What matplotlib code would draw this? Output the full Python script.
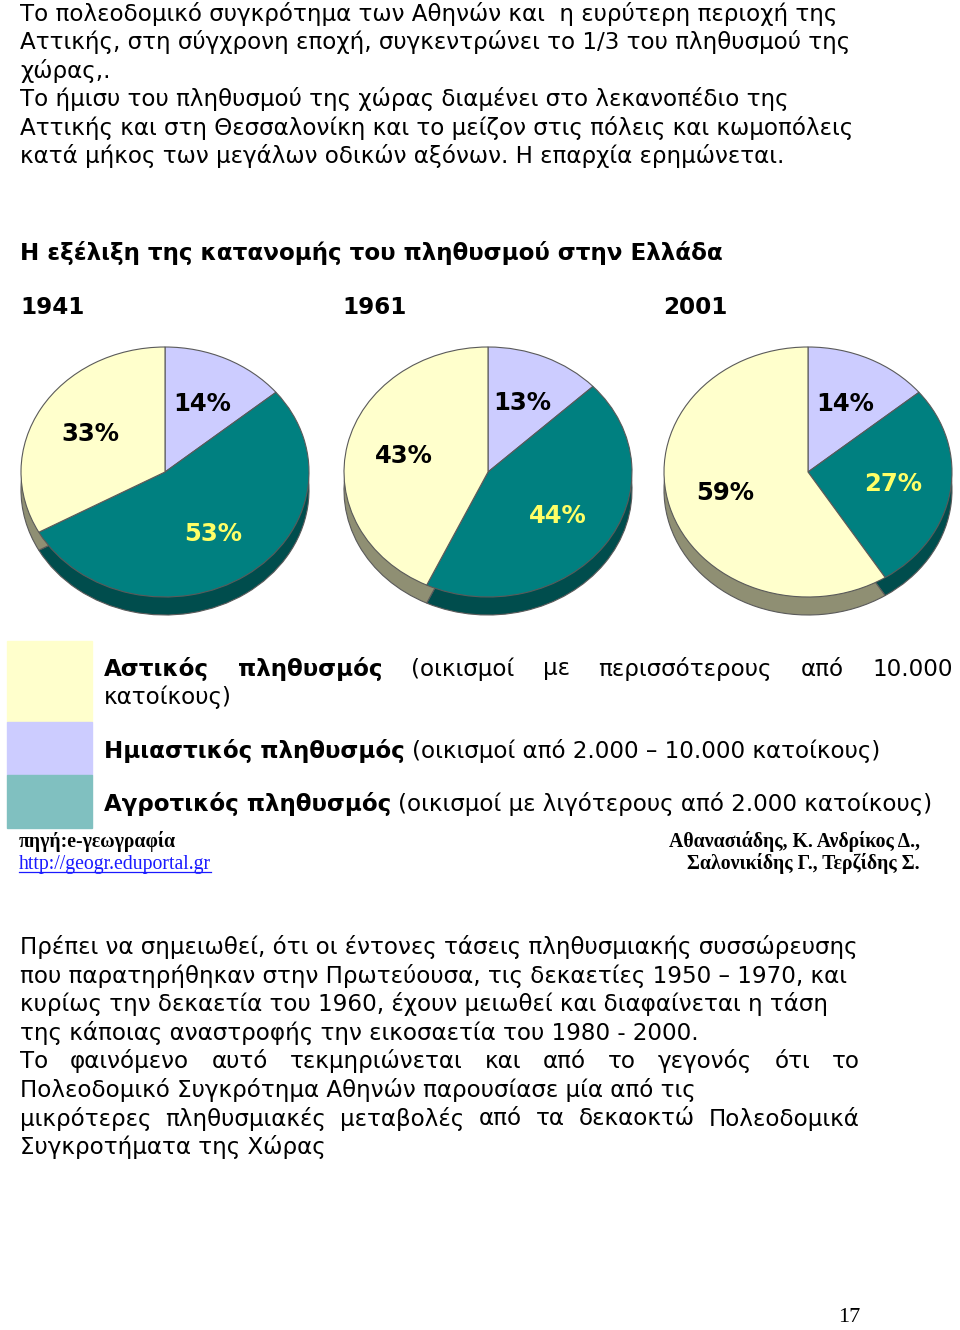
"""Σελίδα με τρία διαγράμματα πίτας: κατανομή πληθυσμού στην Ελλάδα 1941-1961-2001."""

import matplotlib
matplotlib.use("Agg")
import matplotlib.pyplot as plt
from matplotlib.lines import Line2D

# ---------------------------------------------------------------------------
# Δεδομένα
# ---------------------------------------------------------------------------
ETH = ["1941", "1961", "2001"]
ASTIKOS = [33, 43, 59]
HMIASTIKOS = [14, 13, 14]
AGROTIKOS = [53, 44, 27]

PARA1 = [
    "Το πολεοδομικό συγκρότημα των Αθηνών και  η ευρύτερη περιοχή της",
    "Αττικής, στη σύγχρονη εποχή, συγκεντρώνει το 1/3 του πληθυσμού της",
    "χώρας,.",
    "Το ήμισυ του πληθυσμού της χώρας διαμένει στο λεκανοπέδιο της",
    "Αττικής και στη Θεσσαλονίκη και το μείζον στις πόλεις και κωμοπόλεις",
    "κατά μήκος των μεγάλων οδικών αξόνων. Η επαρχία ερημώνεται.",
]
PARA2 = [
    ("Πρέπει να σημειωθεί, ότι οι έντονες τάσεις πληθυσμιακής συσσώρευσης", False),
    ("που παρατηρήθηκαν στην Πρωτεύουσα, τις δεκαετίες 1950 – 1970, και", False),
    ("κυρίως την δεκαετία του 1960, έχουν μειωθεί και διαφαίνεται η τάση", False),
    ("της κάποιας αναστροφής την εικοσαετία του 1980 - 2000.", False),
    ("Το φαινόμενο αυτό τεκμηριώνεται και από το γεγονός ότι το", True),
    ("Πολεοδομικό Συγκρότημα Αθηνών παρουσίασε μία από τις", False),
    ("μικρότερες πληθυσμιακές μεταβολές από τα δεκαοκτώ Πολεοδομικά", True),
    ("Συγκροτήματα της Χώρας", False),
]
TITLOS = "Η εξέλιξη της κατανομής του πληθυσμού στην Ελλάδα"

# χρώματα: ημιαστικός, αγροτικός, αστικός (σειρά δεξιόστροφα από πάνω)
TOP = ["#ccccff", "#008080", "#ffffcc"]
SIDE = ["#7a7a99", "#004d4d", "#8f8f73"]
LEG = {"astikos": "#ffffcc", "hmi": "#ccccff", "agro": "#80c0c0"}
LABEL_COL = ["black", "#ffff66", "black"]

W, H = 960, 1330
BODY = 16.6

fig = plt.figure(figsize=(9.6, 13.3), dpi=100)
renderer = fig.canvas.get_renderer()


def fx(px):
    return px / W


def fy(py):
    return 1 - py / H


def put(x, y, s, **kw):
    kw.setdefault("fontsize", BODY)
    kw.setdefault("va", "center")
    return fig.text(fx(x), fy(y), s, **kw)


def wid(t):
    return t.get_window_extent(renderer).width


def space_w(size, weight="normal"):
    a = put(0, -100, "a a", fontsize=size, fontweight=weight)
    b = put(0, -100, "aa", fontsize=size, fontweight=weight)
    w = wid(a) - wid(b)
    a.remove()
    b.remove()
    return w


def justified(words, x0, x1, y, size=BODY):
    items = [put(x0, y, w, fontsize=size, fontweight=wt) for w, wt in words]
    widths = [wid(t) for t in items]
    gap = (x1 - x0 - sum(widths)) / (len(items) - 1)
    x = x0
    for t, w in zip(items, widths):
        t.set_x(fx(x))
        x += w + gap


def mixed(parts, x, y, size=BODY):
    sp = space_w(size)
    for s, wt in parts:
        t = put(x, y, s, fontsize=size, fontweight=wt)
        x += wid(t) + sp


# ---------------------------------------------------------------------------
# Κείμενο πάνω
# ---------------------------------------------------------------------------
for i, line in enumerate(PARA1):
    put(20, 14 + i * 28.4, line)

put(20, 253, TITLOS, fontweight="bold")
for x, e in zip([20, 342, 663], ETH):
    put(x, 307, e, fontweight="bold")

# ---------------------------------------------------------------------------
# Πίτες (ψευδο-3Δ: σκούρα πίτα μετατοπισμένη προς τα κάτω + πάνω επιφάνεια)
# ---------------------------------------------------------------------------
RX, RY, DEPTH = 144, 125, 18
centers = [165, 488, 808]
CY = 472
for cx, a, h, g in zip(centers, ASTIKOS, HMIASTIKOS, AGROTIKOS):
    left, right = cx - 152, cx + 152
    top, bot = 338, 640
    ax = fig.add_axes([fx(left), fy(bot), (right - left) / W, (bot - top) / H])
    vals = [h, g, a]
    wp = dict(edgecolor="#5a5a5a", linewidth=0.8)
    ax.pie(vals, colors=SIDE, startangle=90, counterclock=False,
           center=(0, -DEPTH / RY), wedgeprops=wp)
    wedges, texts, autot = ax.pie(vals, colors=TOP, startangle=90,
                                  counterclock=False, autopct="%.0f%%",
                                  pctdistance=0.6, wedgeprops=wp,
                                  textprops=dict(fontsize=17.5, fontweight="bold"))
    for t, c in zip(autot, LABEL_COL):
        t.set_color(c)
    ax.set_aspect("auto")
    ax.set_xlim(-(cx - left) / RX, (right - cx) / RX)
    ax.set_ylim(-(bot - CY) / RY, (CY - top) / RY)
    ax.axis("off")

# ---------------------------------------------------------------------------
# Υπόμνημα
# ---------------------------------------------------------------------------
for (y0, y1), c in zip([(641, 722), (722, 775), (775, 828)],
                       [LEG["astikos"], LEG["hmi"], LEG["agro"]]):
    fig.patches.append(plt.Rectangle((fx(7), fy(y1)), 85 / W, (y1 - y0) / H,
                                     transform=fig.transFigure, color=c, zorder=0))

justified([("Αστικός", "bold"), ("πληθυσμός", "bold"), ("(οικισμοί", "normal"),
           ("με", "normal"), ("περισσότερους", "normal"), ("από", "normal"),
           ("10.000", "normal")], 104, 953, 669)
put(104, 697, "κατοίκους)")
mixed([("Ημιαστικός πληθυσμός", "bold"),
       ("(οικισμοί από 2.000 – 10.000 κατοίκους)", "normal")], 104, 751)
mixed([("Αγροτικός πληθυσμός", "bold"),
       ("(οικισμοί με λιγότερους από 2.000 κατοίκους)", "normal")], 104, 804)

# πηγή
SERIF = "Liberation Serif"
SSIZE = 14.2
put(19, 842, "πηγή:e-γεωγραφία", family=SERIF, fontsize=SSIZE, fontweight="bold")
url = put(19, 864, "http://geogr.eduportal.gr", family=SERIF, fontsize=SSIZE,
          color="#1a1aff")
uw = wid(url)
fig.lines.append(Line2D([fx(19), fx(19 + uw)], [fy(872), fy(872)],
                        transform=fig.transFigure, color="#1a1aff", lw=0.9))
put(920, 842, "Αθανασιάδης, Κ. Ανδρίκος Δ.,", family=SERIF, fontsize=SSIZE,
    fontweight="bold", ha="right")
put(920, 864, "Σαλονικίδης Γ., Τερζίδης Σ.", family=SERIF, fontsize=SSIZE,
    fontweight="bold", ha="right")

# ---------------------------------------------------------------------------
# Κείμενο κάτω
# ---------------------------------------------------------------------------
for i, (line, just) in enumerate(PARA2):
    y = 947 + i * 28.6
    if just:
        justified([(w, "normal") for w in line.split()], 20, 860, y)
    else:
        put(20, y, line)

put(838, 1318, "17", family=SERIF, fontsize=16)

fig.savefig("out.png", dpi=100)
plt.close(fig)
